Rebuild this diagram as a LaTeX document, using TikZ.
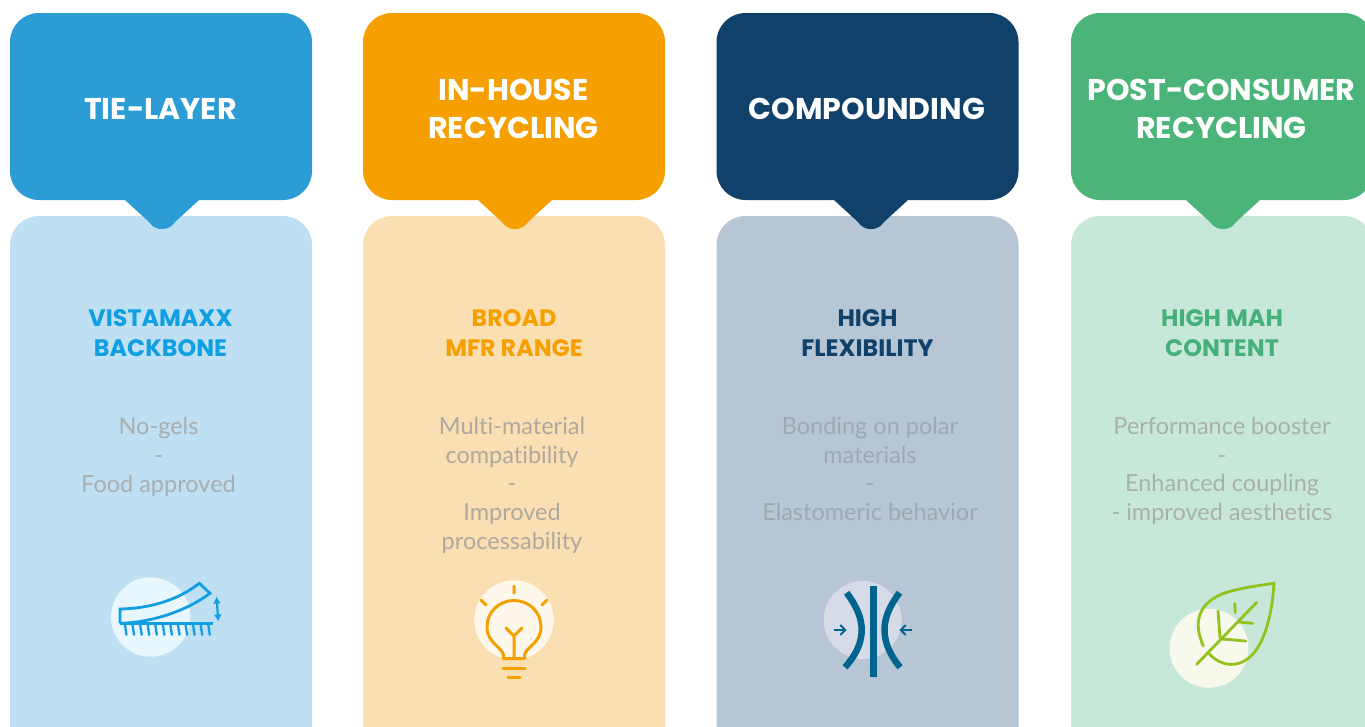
\documentclass[tikz,border=0pt]{standalone}
\usepackage{fontspec}
\newfontfamily\headfont{Poppins}[UprightFont=*,BoldFont=* Bold]
\newfontfamily\bodyfont{Lato}[Ligatures=NoCommon]
\usetikzlibrary{arrows.meta}
\definecolor{hA}{HTML}{2B9CD6}\definecolor{lA}{HTML}{BFE0F2}\definecolor{tA}{HTML}{0F9FE2}\definecolor{cA}{HTML}{E8F6FE}
\definecolor{hB}{HTML}{F5A000}\definecolor{lB}{HTML}{FADFB2}\definecolor{tB}{HTML}{F5A000}\definecolor{cB}{HTML}{FEF7EC}
\definecolor{hC}{HTML}{10416B}\definecolor{lC}{HTML}{B7C6D4}\definecolor{tC}{HTML}{10416B}\definecolor{cC}{HTML}{D5DCE8}
\definecolor{hD}{HTML}{4BB479}\definecolor{lD}{HTML}{C7E8D8}\definecolor{tD}{HTML}{45B07A}\definecolor{cD}{HTML}{F6F9EC}
\definecolor{icA}{HTML}{0F9FE2}\definecolor{icC}{HTML}{00648F}\definecolor{icD}{HTML}{95C11F}
\definecolor{grA}{HTML}{ABADAE}\definecolor{grB}{HTML}{AEA99F}\definecolor{grC}{HTML}{A0A8AF}\definecolor{grD}{HTML}{A9B0AC}
\tikzset{
  x=1pt,y=-1pt,
  bodybox/.style={fill=#1,rounded corners=29pt},
  headbox/.style={fill=#1,rounded corners=29pt},
  titletext/.style={text=white,align=center,inner sep=0pt,font=\headfont\bfseries\fontsize{30}{38}\selectfont,execute at begin node=\strut,execute at end node=\strut},
  subtext/.style={text=#1,align=center,inner sep=0pt,font=\headfont\bfseries\fontsize{23.8}{30}\selectfont,execute at begin node=\strut,execute at end node=\strut},
  plaintext/.style={text=#1,align=center,inner sep=0pt,font=\bodyfont\fontsize{23.5}{28.7}\selectfont,execute at begin node=\strut,execute at end node=\strut},
  iconline/.style={draw=#1,line width=2.8pt,line cap=round,line join=round},
  bulbline/.style={iconline=hB,line width=3pt},
}
\newcommand{\panel}[3]{% left x, tip centre x, letter
  \fill[bodybox=l#3] (#1,216) rectangle ++(302,540);
  \fill[headbox=h#3] (#1,13) rectangle ++(302,187);
  \fill[h#3] (#2-37,199) -- (#2+37,199) -- (#2+37,200) -- (#2+13,222) .. controls (#2+7,231.5) and (#2-7,231.5) .. (#2-13,222) -- (#2-37,200) -- cycle;
}
\begin{document}
\begin{tikzpicture}
\clip (0,0) rectangle (1365,726);
\fill[white] (0,0) rectangle (1365,726);
\panel{10}{162}{A}
\panel{363}{515}{B}
\panel{716.5}{871}{C}
\panel{1071}{1223}{D}

\node[titletext] (t1) at (160.5,112) {TIE-LAYER};
\node[titletext] (t2) at (513.5,114.5) {IN-HOUSE\\RECYCLING};
\node[titletext] (t3) at (867,112) {COMPOUNDING};
\node[titletext] (t4) at (1221.5,114.5) {POST-CONSUMER\\RECYCLING};

\node[subtext=tA] (s1) at (160.5,337.3) {VISTAMAXX\\BACKBONE};
\node[subtext=tB] (s2) at (514,337.3) {BROAD\\MFR RANGE};
\node[subtext=tC] (s3) at (867.5,337.3) {HIGH\\FLEXIBILITY};
\node[subtext=tD] (s4) at (1222,337.3) {HIGH MAH\\CONTENT};

\node[plaintext=grA] (b1) at (158.5,459) {No-gels\\-\\Food approved};
\node[plaintext=grB] (b2) at (512,487.5) {Multi-material\\compatibility\\-\\Improved\\processability};
\node[plaintext=grC] (b3) at (870,473) {Bonding on polar\\materials\\-\\Elastomeric behavior};
\node[plaintext=grD] (b4) at (1222,473) {Performance booster\\-\\Enhanced coupling\\- improved aesthetics};

% icon 1: bending strip
\fill[cA] (150.7,617) circle (39.7);
\draw[iconline=icA,line cap=butt,line join=miter] (120,623.3) -- (120,609) .. controls (150,608.5) and (178,600) .. (199.3,583.3) -- (210,593.3) .. controls (185,612) and (150,622.5) .. (120,623.3);
\draw[icA,line width=2.8pt] (120,623.3) -- (212.7,623.3);
\foreach \hx in {125,132.6,140.2,147.7,155.3,162.9,170.4,178,185.6,193.1,200.7,208.3}
  \draw[icA,line width=2.3pt] (\hx,625) -- (\hx+1.6,635.5);
\draw[icA,line width=2.2pt,{Latex[length=7pt,width=8pt]}-{Latex[length=7pt,width=8pt]}] (216.5,596.5) -- (218.3,621.5);

% icon 2: bulb
\fill[cB] (514,620) circle (39.7);
\draw[bulbline] (503.5,658.5) -- (503.5,655) .. controls (502,647) and (487,643) .. (487,627) .. controls (487,612) and (499,600.5) .. (514,600.5) .. controls (529,600.5) and (541,612) .. (541,627) .. controls (541,643) and (526,647) .. (524.5,655) -- (524.5,658.5) -- cycle;
\draw[bulbline] (514,658) -- (514,636) (506,628) -- (514,636) -- (522,628);
\draw[bulbline] (503,668) -- (525,668) (508,677) -- (520,677);
\draw[bulbline] (514,586) -- (514,593) (481,600) -- (486,605) (547,600) -- (542,605);

% icon 3: compression
\fill[cC] (862.7,620) circle (39);
\draw[icC,line width=7pt] (873.3,586) -- (873.3,677);
\draw[icC,line width=6.5pt] (846.7,592.7) .. controls (857,607) and (861.7,618) .. (861.7,630) .. controls (861.7,644) and (855,656) .. (845,667.3);
\draw[icC,line width=6.5pt] (899.5,592.7) .. controls (889,607) and (884.5,618) .. (884.5,630) .. controls (884.5,644) and (891,656) .. (900,667.3);
\draw[icC,line width=2pt,-{Straight Barb[length=5pt,width=10pt]}] (834,630) -- (846.7,630);
\draw[icC,line width=2pt,-{Straight Barb[length=5pt,width=10pt]}] (912,630) -- (899.3,630);

% icon 4: leaf
\fill[cD] (1209,648.3) circle (39.5);
\draw[iconline=icD] (1203.3,646) .. controls (1194,625) and (1196,605) .. (1222,594) .. controls (1235,589) and (1255,586) .. (1274,583.3) .. controls (1272,615) and (1265,640) .. (1253,654) .. controls (1240,668) and (1222,668) .. (1208.3,653);
\draw[iconline=icD] (1196.7,664.3) -- (1256.7,602.3);
\draw[iconline=icD] (1220,638) -- (1218,611) (1238,622) -- (1252.7,623.3) (1235.3,612.5) -- (1234.7,603.5) (1222,639) -- (1245.7,641);
\end{tikzpicture}
\end{document}
